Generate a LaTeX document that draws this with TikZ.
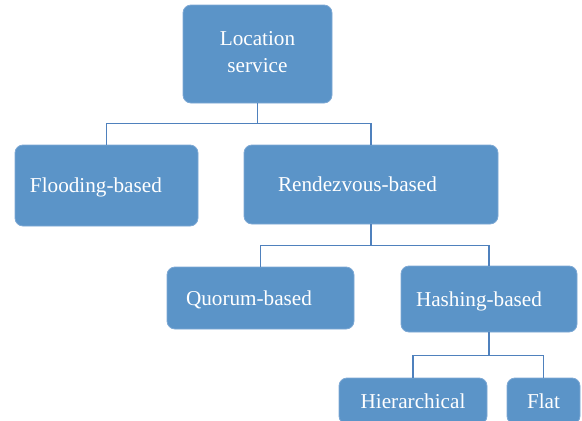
\documentclass[tikz,border=0pt]{standalone}
\usepackage{fontspec}
\setmainfont{Liberation Serif}
\definecolor{boxfill}{RGB}{91,148,200}
\definecolor{boxedge}{RGB}{125,168,212}
\definecolor{linkcol}{RGB}{79,129,189}
\begin{document}
\begin{tikzpicture}[x=1pt,y=-1pt,
  box/.style={draw=boxedge,line width=0.8pt,fill=boxfill,rounded corners=8pt,
    text=white,font=\fontsize{21.2}{27}\selectfont,inner ysep=0pt},
  nodepth/.style={text depth=0pt},
  link/.style={draw=linkcol,line width=1.2pt}]
\clip (0,0) rectangle (582,421);
\node[box,minimum width=149pt,minimum height=98pt,align=center,inner xsep=0pt,text depth=4pt] (loc) at (257.5,54) {Location\\service};
\node[box,nodepth,minimum height=81pt,text width=153pt,inner xsep=15pt,align=left] (flood) at (106.5,185.5) {Flooding-based};
\node[box,nodepth,minimum height=79pt,text width=186pt,inner xsep=34pt,align=left] (rend) at (371,184.5) {Rendezvous-based};
\node[box,nodepth,minimum height=62pt,text width=149pt,inner xsep=19pt,align=left] (quor) at (260.5,298) {Quorum-based};
\node[box,nodepth,minimum height=66pt,text width=146pt,inner xsep=15pt,align=left] (hash) at (489,299) {Hashing-based};
\node[box,minimum height=46pt,minimum width=148pt,inner xsep=0pt] (hier) at (413,401) {Hierarchical};
\node[box,minimum height=46pt,minimum width=73pt,inner xsep=0pt] (flat) at (543.5,401) {Flat};
\draw[link] (loc.south) -- ++(0,20) -| (flood.north);
\draw[link] (loc.south) -- ++(0,20) -| (rend.north);
\draw[link] (rend.south) -- ++(0,21) -| (quor.north);
\draw[link] (rend.south) -- ++(0,21) -| (hash.north);
\draw[link] (hash.south) -- ++(0,23) -| (hier.north);
\draw[link] (hash.south) -- ++(0,23) -| (flat.north);
\end{tikzpicture}
\end{document}
